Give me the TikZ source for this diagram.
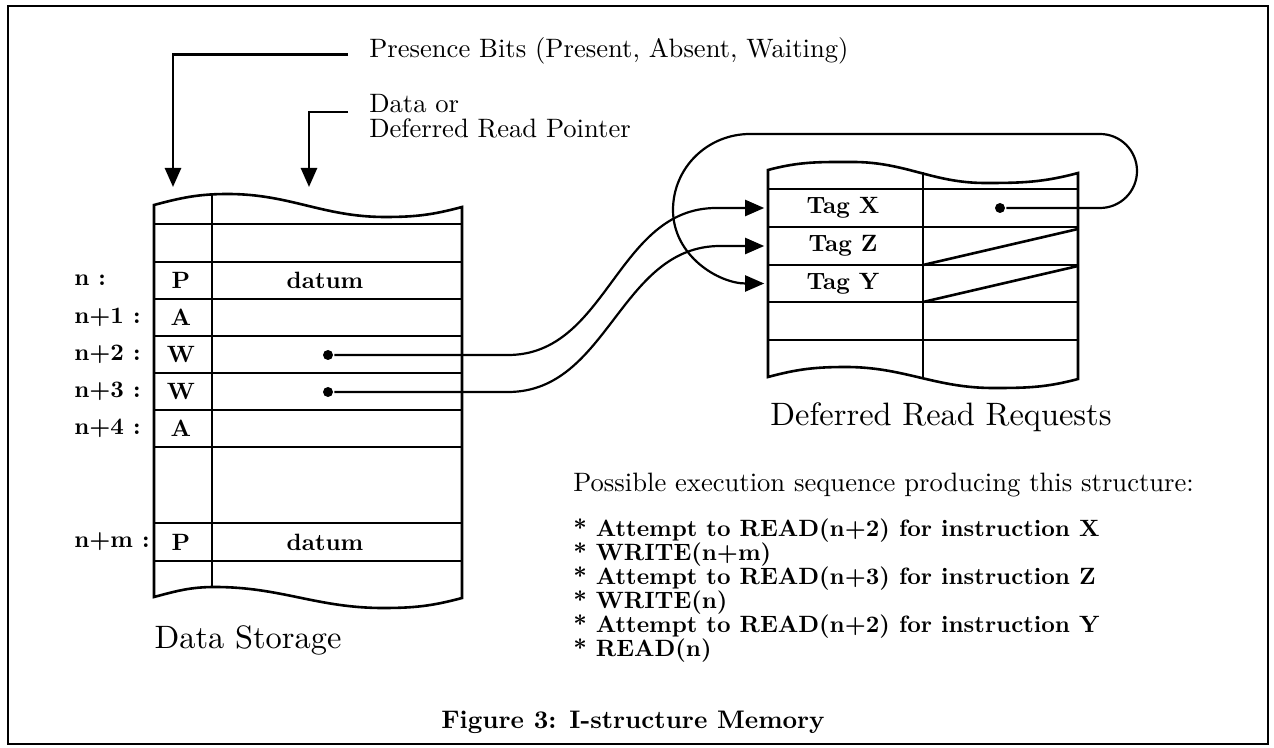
\documentclass[tikz,border=0pt]{standalone}
\usepackage{fontspec}
\setmainfont{lmroman10}[Extension=.otf, UprightFont=*-regular, BoldFont=*-bold]
\usepackage{tikz}
\usetikzlibrary{positioning, arrows.meta}

\begin{document}
\begin{tikzpicture}[x=0.5pt, y=-0.5pt, line width=1.3pt, >={Triangle[length=9.5pt, width=8pt]},
    txt/.style={inner sep=0pt, font=\fontsize{13.3}{12.5}\selectfont},
    bit/.style={inner sep=0pt, font=\bfseries\fontsize{11.8}{12}\selectfont},
    big/.style={inner sep=0pt, font=\fontsize{16.2}{18}\selectfont},
    tagcell/.style={bit, minimum width=77.5pt, minimum height=19pt},
    dot/.style={circle, fill, inner sep=0pt, minimum size=5pt},
    link/.style={->, line width=1.1pt}]
    \useasboundingbox (0,0) rectangle (1274,748);
    \draw[line width=1.1pt] (8,6) rectangle (1268,744);

    \draw (154,205) to[out=15,in=180] (228,194) to[out=0,in=180] (385,217) to[out=0,in=195] (462,207)
          -- (462,598) to[out=195,in=0] (383,608) to[out=180,in=0] (215,587) to[out=180,in=15] (154,597) -- cycle;
    \draw (212,195) -- (212,588);
    \foreach \y in {224,262,299,336,373,410,447,523,561}
        \draw (154,\y) -- (462,\y);

    \draw (768,170) to[out=15,in=180] (853,162) to[out=0,in=180] (985,183) to[out=0,in=195] (1078,173)
          -- (1078,379) to[out=195,in=0] (993,388) to[out=180,in=0] (846,367) to[out=180,in=15] (768,377) -- cycle;
    \draw (923,172) -- (923,377);
    \foreach \y in {189,227,265,302,340}
        \draw (768,\y) -- (1078,\y);
    \draw (923,265) -- (1078,229);
    \draw (923,302) -- (1078,266);

    \node[txt, anchor=base west] (presence) at (368,58) {Presence Bits (Present, Absent, Waiting)};
    \node[txt, anchor=base west] (dataor)   at (368,113) {Data or};
    \node[txt, anchor=base west] (drptr)    at (368,138) {Deferred Read Pointer};
    \coordinate (bitsTip) at (173,187);
    \coordinate (wordTip) at (309,187);

    \node[bit, anchor=west] (lbln)  at (73,280.5) {n :};
    \node[bit, anchor=west] (lbln1) at (73,317.5) {n+1 :};
    \node[bit, anchor=west] (lbln2) at (73,354.5) {n+2 :};
    \node[bit, anchor=west] (lbln3) at (73,391.5) {n+3 :};
    \node[bit, anchor=west] (lbln4) at (73,428.5) {n+4 :};
    \node[bit, anchor=west] (lblnm) at (73,542)   {n+m :};

    \node[bit] (pn)   at (181,280.5) {P};
    \node[bit] (an1)  at (181,317.5) {A};
    \node[bit] (wn2)  at (181,354.5) {W};
    \node[bit] (wn3)  at (181,391.5) {W};
    \node[bit] (an4)  at (181,428.5) {A};
    \node[bit] (pnm)  at (181,542)   {P};
    \node[bit] (datn)  at (325,280.5) {datum};
    \node[bit] (datnm) at (325,542)   {datum};
    \node[dot] (d2) at (328,355) {};
    \node[dot] (d3) at (328,392) {};

    \node[tagcell] (tagX) at (843,208)   {Tag X};
    \node[tagcell] (tagZ) at (843,246)   {Tag Z};
    \node[tagcell] (tagY) at (843,283.5) {Tag Y};
    \node[dot] (dX) at (1000,208) {};

    \node[big] (store)    at (248,640) {Data Storage};
    \node[big] (requests) at (941,417) {Deferred Read Requests};
    \node[txt, anchor=west] (possible) at (572,485) {Possible execution sequence producing this structure:};
    \node[bit, anchor=north west, align=left] (seq) at (572,517)
        {* Attempt to READ(n+2) for instruction X\\
         * WRITE(n+m)\\
         * Attempt to READ(n+3) for instruction Z\\
         * WRITE(n)\\
         * Attempt to READ(n+2) for instruction Y\\
         * READ(n)};
    \node[inner sep=0pt, font=\bfseries\fontsize{12.7}{14}\selectfont] (caption) at (633,722) {Figure 3: I-structure Memory};

    \draw[->] ([xshift=-10pt,yshift=-1.5pt]presence.west) -| (bitsTip);
    \draw[->] ([xshift=-10pt,yshift=-4pt]dataor.west) -| (wordTip);
    \draw[link] (d2) -- ++(180,0) to[out=0,in=180] ([xshift=-24pt]tagX.west) -- (tagX.west);
    \draw[link] (d3) -- ++(180,0) to[out=0,in=180] ([xshift=-22pt]tagZ.west) -- (tagZ.west);
    \draw[link] (dX) -- ++(100,0) arc[start angle=-90, end angle=90, radius=18.5pt] -- ++(-350,0)
          to[out=180,in=90] ++(-77,76) to[out=270,in=180] (tagY.west);
\end{tikzpicture}
\end{document}
